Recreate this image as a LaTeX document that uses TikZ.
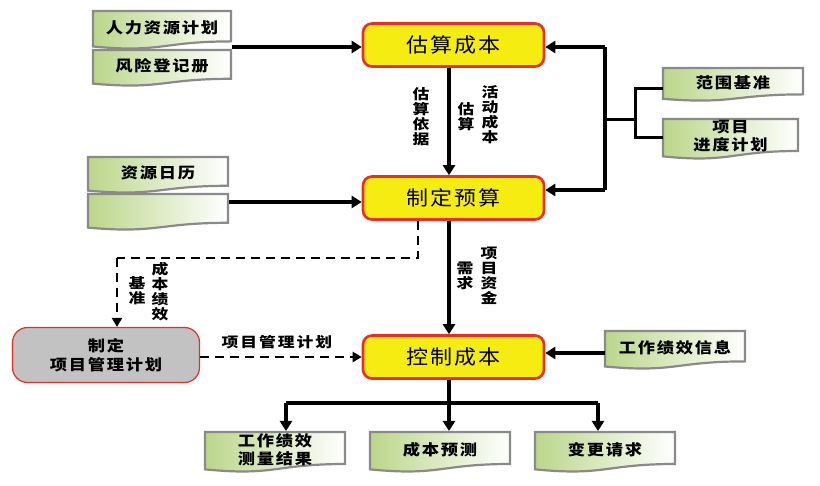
\documentclass[tikz,border=0pt]{standalone}
\usepackage{fontspec}
\newfontfamily\cjkp{Noto Sans CJK SC}[FakeStretch=1.1, LetterSpace=9]
\newfontfamily\cjkd{Noto Sans CJK SC}[FakeStretch=1.15, LetterSpace=12]
\newfontfamily\cjkl{Noto Sans CJK SC}[FakeStretch=1.2, LetterSpace=14]
\usetikzlibrary{arrows.meta}
\definecolor{boxyellow}{HTML}{F5EC12}
\definecolor{boxred}{HTML}{EE2B24}
\definecolor{docgreen}{HTML}{BBD68A}
\definecolor{docedge}{HTML}{8A8A8A}
\definecolor{greyfill}{HTML}{C2C2C2}
\newcommand\docbox[6]{%
  \path[docstyle] (#2,#3) -- (#4,#3) -- (#4,{#3+0.80*#5}) .. controls ({(#2+#4)/2},{#3+0.80*#5}) and ({(#2+#4)/2},{#3+1.107*#5}) .. (#2,{#3+0.934*#5}) -- cycle;
  \node[doctext, minimum width={#4-#2}, minimum height={0.8*#5}] (#1) at ({(#2+#4)/2},{#3+0.44*#5}) {#6};
}
\begin{document}
\begin{tikzpicture}[x=1pt,y=-1pt,
  proc/.style={draw=boxred, fill=boxyellow, line width=2.6pt, rounded corners=9pt,
    minimum width=181pt, minimum height=43pt, inner sep=0pt,
    font=\cjkp\fontsize{20}{24}\selectfont},
  docstyle/.style={draw=docedge, line width=2.2pt, left color=docgreen, right color=white},
  doctext/.style={inner sep=0pt, align=center, font=\cjkd\bfseries\fontsize{15}{18}\selectfont},
  lbl/.style={inner sep=0pt, align=center, font=\cjkl\bfseries\fontsize{14}{15}\selectfont},
  arr/.style={line width=3.6pt, -{Triangle[length=10pt,width=12pt]}},
  thick line/.style={line width=3.6pt},
  branch/.style={line width=3pt},
  dash arr/.style={line width=2.6pt, dash pattern=on 9pt off 6pt, -{Triangle[length=9pt,width=10pt]}},
  dash line/.style={line width=2.6pt, dash pattern=on 9pt off 6pt}
]
\useasboundingbox (0,0) rectangle (820,486);

% process boxes
\node[proc] (est) at (453.5,45) {估算成本};
\node[proc] (bud) at (453.5,198) {制定预算};
\node[proc] (ctl) at (453.5,357) {控制成本};

\node[draw=boxred, fill=greyfill, line width=1.2pt, rounded corners=15pt,
  minimum width=187pt, minimum height=55pt, inner sep=0pt, align=center,
  font=\cjkd\bfseries\fontsize{15}{19}\selectfont] (pmp) at (106,355) {制定\\项目管理计划};

% document boxes
\docbox{hr}{93}{11}{231}{38}{人力资源计划}
\docbox{risk}{93}{50}{231}{36}{风险登记册}
\docbox{cal}{88}{157}{228}{36}{资源日历}
\docbox{blank}{88}{194}{228}{36}{}
\docbox{scope}{663}{68}{803}{33}{范围基准}
\docbox{sched}{663}{119}{798}{40}{项目\\进度计划}
\docbox{wpi}{605}{331}{745}{38}{工作绩效信息}
\docbox{wpm}{205}{432}{345}{40}{工作绩效\\测量结果}
\docbox{fc}{370}{432}{510}{40}{成本预测}
\docbox{cr}{535}{432}{675}{40}{变更请求}

% left inputs
\coordinate (j1) at (232,47);
\draw[arr] (j1) -- (est.west |- j1);
\coordinate (j2) at (229,202);
\draw[arr] (j2) -- (bud.west |- j2);

% right bracket
\coordinate (rt) at (605,47);
\coordinate (rb) at (605,190);
\coordinate (rm) at (605,120);
\coordinate (bm) at (635,120);
\draw[thick line] (rt) -- (rb);
\draw[arr] (rt) -- (est.east |- rt);
\draw[arr] (rb) -- (bud.east |- rb);
\draw[branch] (rm) -- (bm);
\draw[branch] (scope.west |- 0,89) -| (bm) |- (sched.west |- 0,138);

% vertical flows
\draw[arr] (est.south -| 449,0) -- (bud.north -| 449,0);
\draw[arr] (bud.south -| 449,0) -- (ctl.north -| 449,0);
\node[lbl] (l1) at (421,117) {估\\算\\依\\据};
\node[lbl] (l2) at (490,115) {活\\动\\成\\本};
\node[lbl] (l3) at (466,117) {估\\算};
\node[lbl] (l4) at (489,276) {项\\目\\资\\金};
\node[lbl] (l5) at (465,276) {需\\求};

% dashed baseline
\coordinate (d1) at (418,258);
\coordinate (d2) at (117,258);
\draw[dash line] (bud.south -| d1) -- (d1) -- (d2);
\draw[dash arr] (d2) -- (pmp.north -| d2);
\node[lbl] (l6) at (160,292) {成\\本\\绩\\效};
\node[lbl] (l7) at (137,291) {基\\准};

% plan to control
\draw[dash arr] (pmp.east |- 0,357) -- (ctl.west |- 0,357);
\node[lbl] (l8) at (277,342) {项目管理计划};

% work performance info
\draw[arr] (wpi.west |- 0,353) -- (ctl.east |- 0,353);

% outputs
\coordinate (ob) at (449,403);
\coordinate (ol) at (286,403);
\coordinate (or) at (598,403);
\draw[thick line] (ctl.south -| ob) -- (ob);
\draw[thick line] (ol) -- (or);
\draw[arr] (ol) -- (ol |- 0,431);
\draw[arr] (ob) -- (ob |- 0,431);
\draw[arr] (or) -- (or |- 0,431);
\end{tikzpicture}
\end{document}
